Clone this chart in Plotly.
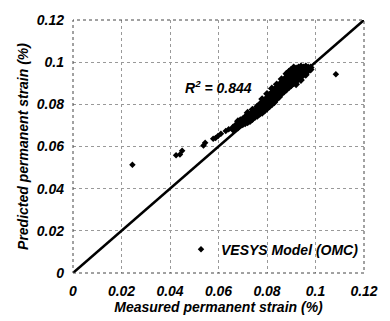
import plotly.graph_objects as go

# Scattered points (measured, predicted)
sparse_x = [0.0245, 0.0425, 0.0441, 0.045, 0.0538, 0.0545, 0.0578, 0.0588, 0.0598, 0.061, 0.063, 0.0642, 0.0678, 0.0695, 0.1084]
sparse_y = [0.0513, 0.0559, 0.0562, 0.058, 0.0605, 0.0618, 0.0637, 0.064, 0.065, 0.066, 0.0673, 0.0682, 0.0696, 0.0705, 0.0943]

# Dense cluster, column by column (measured value -> predicted values)
cluster_cols = {
    0.066: [0.068, 0.069],
    0.067: [0.0685, 0.070],
    0.068: [0.069, 0.0705, 0.072],
    0.069: [0.070, 0.071, 0.0725],
    0.070: [0.0705, 0.072, 0.073],
    0.071: [0.071, 0.0725, 0.074],
    0.072: [0.0715, 0.073, 0.0745, 0.076],
    0.073: [0.072, 0.0735, 0.075],
    0.074: [0.073, 0.0745, 0.076, 0.0775],
    0.075: [0.074, 0.0755, 0.077],
    0.076: [0.0745, 0.076, 0.0775, 0.079],
    0.077: [0.0755, 0.077, 0.0785, 0.080],
    0.078: [0.076, 0.078, 0.0795, 0.081, 0.0825],
    0.079: [0.077, 0.079, 0.0805, 0.082],
    0.080: [0.078, 0.080, 0.0815, 0.083, 0.085],
    0.081: [0.079, 0.081, 0.0825, 0.0845],
    0.082: [0.080, 0.082, 0.084, 0.0855, 0.0875],
    0.083: [0.081, 0.083, 0.085, 0.087],
    0.084: [0.0825, 0.0845, 0.0865, 0.088, 0.0895],
    0.085: [0.0835, 0.0855, 0.0875, 0.089],
    0.086: [0.085, 0.087, 0.089, 0.0905, 0.092],
    0.087: [0.086, 0.088, 0.090, 0.0915],
    0.088: [0.087, 0.089, 0.091, 0.093, 0.0945],
    0.089: [0.088, 0.090, 0.092, 0.094, 0.0955],
    0.090: [0.089, 0.091, 0.093, 0.095, 0.0965],
    0.091: [0.090, 0.092, 0.094, 0.096, 0.0975],
    0.092: [0.0895, 0.091, 0.093, 0.095, 0.097],
    0.093: [0.092, 0.094, 0.096, 0.0975],
    0.094: [0.0915, 0.093, 0.095, 0.097, 0.098],
    0.095: [0.094, 0.096, 0.0975],
    0.096: [0.094, 0.095, 0.097, 0.098],
    0.097: [0.096, 0.0975],
    0.098: [0.0965, 0.0975],
}

line_x = [0, 0.12]
line_y = [0, 0.12]

tick_vals = [0, 0.02, 0.04, 0.06, 0.08, 0.1, 0.12]
tick_text = ["0", "0.02", "0.04", "0.06", "0.08", "0.1", "0.12"]

r2_label = "R<sup>2</sup> = 0.844"
series_name = "VESYS Model (OMC)"

cl_x, cl_y = [], []
for cx, ys in cluster_cols.items():
    for yv in ys:
        cl_x.append(cx)
        cl_y.append(yv)

FONT = "Liberation Sans"
bold_it = dict(family=FONT, size=14, color="black", weight="bold", style="italic")

fig = go.Figure()
fig.add_trace(go.Scatter(x=line_x, y=line_y, mode="lines",
                         line=dict(color="black", width=2.5), showlegend=False))
fig.add_trace(go.Scatter(x=cl_x, y=cl_y, mode="markers", name=series_name,
                         legendgroup="v", showlegend=False,
                         marker=dict(symbol="diamond", size=6, color="black")))
fig.add_trace(go.Scatter(x=sparse_x, y=sparse_y, mode="markers", name=series_name,
                         legendgroup="v",
                         marker=dict(symbol="diamond", size=5, color="black")))

axis_common = dict(range=[0, 0.12], tickvals=tick_vals, ticktext=tick_text,
                   showgrid=True, gridcolor="#999", griddash="dot", gridwidth=1,
                   zeroline=False, showline=False, ticks="",
                   tickfont=bold_it, ticklabelstandoff=8)

fig.update_xaxes(**axis_common,
                 title=dict(text="Measured permanent strain (%)", font=bold_it, standoff=0))
fig.update_yaxes(**axis_common,
                 title=dict(text="Predicted permanent strain (%)", font=bold_it, standoff=4))

fig.add_shape(type="rect", xref="paper", yref="paper", x0=0, y0=0, x1=1, y1=1,
              line=dict(color="#444", width=1, dash="dot"), layer="above")

fig.add_annotation(x=0.06, y=0.088, text=r2_label, showarrow=False, font=bold_it)

fig.update_layout(
    width=390, height=321,
    margin=dict(l=73, r=18, t=15, b=44),
    plot_bgcolor="white", paper_bgcolor="white",
    legend=dict(x=1.0, y=0.092, xanchor="right", yanchor="middle",
                bgcolor="rgba(0,0,0,0)", font=bold_it, itemwidth=30),
)

fig.write_html("out.html")
